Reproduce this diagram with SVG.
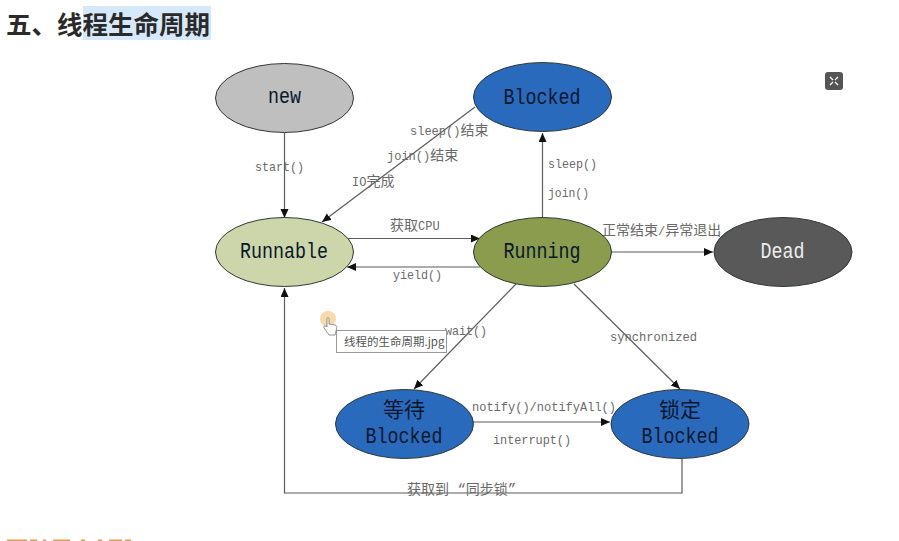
<svg xmlns="http://www.w3.org/2000/svg" width="899" height="541" viewBox="0 0 899 541">
<style>
text{font-family:"Liberation Mono","Noto Sans CJK SC",monospace}
.n{stroke:#2f3a33;stroke-width:1}
.t{font-size:22px;text-anchor:middle;fill:#08182c}
.k{font-size:21px;text-anchor:middle;fill:#08182c}
.l{font-size:13.500px;fill:#6a6a6a}
.m{font-size:12px;fill:#6a6a6a}
.m tspan{font-size:14px}
.c{fill:none;stroke:#5c5c5c;stroke-width:1.200;marker-end:url(#a)}
.h{font-family:"Noto Sans CJK SC","Noto Sans",sans-serif;font-size:25.500px;font-weight:700;fill:#2a2a2a}
</style>
<defs><marker id="a" markerUnits="userSpaceOnUse" markerWidth="10" markerHeight="10" refX="9" refY="4" orient="auto"><path d="M0 0L9 4L0 8Z" fill="#111"/></marker></defs>
<rect width="899" height="541" fill="#fff"/>
<g id="heading">
<rect x="83" y="6" width="128" height="34" fill="#d6e9fa"/>
<text class="h" x="6" y="34">五、线程生命周期</text>
</g>
<g id="connectors">
<path class="c" d="M284.500 132.500V218"/>
<path class="c" d="M475 107L322 222"/>
<path class="c" d="M542.500 218V133"/>
<path class="c" d="M347 238.500H480"/>
<path class="c" d="M480 267H347"/>
<path class="c" d="M611 252H713"/>
<path class="c" d="M516 284L414 389"/>
<path class="c" d="M574 284L680 389"/>
<path class="c" d="M473 422H610"/>
<path class="c" d="M682 459V493H284.500V288"/>
</g>
<g id="labels">
<text class="l" x="255" y="171" textLength="49" lengthAdjust="spacingAndGlyphs">start()</text>
<text class="m" x="410" y="135">sleep()<tspan>结束</tspan></text>
<text class="m" x="387" y="160">join()<tspan>结束</tspan></text>
<text class="m" x="352" y="186">IO<tspan>完成</tspan></text>
<text class="m" x="390" y="230"><tspan>获取</tspan>CPU</text>
<text class="l" x="393" y="279" textLength="49" lengthAdjust="spacingAndGlyphs">yield()</text>
<text class="l" x="548" y="168" textLength="49" lengthAdjust="spacingAndGlyphs">sleep()</text>
<text class="l" x="548" y="197" textLength="41" lengthAdjust="spacingAndGlyphs">join()</text>
<text class="m" x="602" y="235"><tspan>正常结束</tspan>/<tspan>异常退出</tspan></text>
<text class="l" x="445" y="335" textLength="42" lengthAdjust="spacingAndGlyphs">wait()</text>
<text class="l" x="610" y="341" textLength="87" lengthAdjust="spacingAndGlyphs">synchronized</text>
<text class="l" x="472" y="411" textLength="144" lengthAdjust="spacingAndGlyphs">notify()/notifyAll()</text>
<text class="l" x="493" y="444" textLength="78" lengthAdjust="spacingAndGlyphs">interrupt()</text>
<text class="m" x="407" y="494"><tspan>获取到 “同步锁”</tspan></text>
</g>
<g id="new"><ellipse class="n" cx="284.500" cy="98" rx="69" ry="34.500" fill="#bfbfbf"/><text class="t" x="284.500" y="103" textLength="33" lengthAdjust="spacingAndGlyphs">new</text></g>
<g id="blocked"><ellipse class="n" cx="542.500" cy="97" rx="69" ry="34.500" fill="#2a6abd"/><text class="t" x="542" y="104" textLength="77" lengthAdjust="spacingAndGlyphs">Blocked</text></g>
<g id="runnable"><ellipse class="n" cx="284.500" cy="252" rx="69" ry="34.500" fill="#cdd6aa"/><text class="t" x="284" y="258" textLength="88" lengthAdjust="spacingAndGlyphs">Runnable</text></g>
<g id="running"><ellipse class="n" cx="542.500" cy="252" rx="69" ry="34.500" fill="#8b9c4e"/><text class="t" x="542" y="258" textLength="77" lengthAdjust="spacingAndGlyphs">Running</text></g>
<g id="dead"><ellipse class="n" cx="783" cy="252" rx="69" ry="34.500" fill="#595959"/><text class="t" x="782.500" y="258" textLength="44" lengthAdjust="spacingAndGlyphs" style="fill:#eee">Dead</text></g>
<g id="waiting"><ellipse class="n" cx="404.500" cy="424" rx="69" ry="34.500" fill="#2a6abd"/><text class="k" x="404" y="417">等待</text><text class="t" x="404" y="443" textLength="77" lengthAdjust="spacingAndGlyphs">Blocked</text></g>
<g id="locked"><ellipse class="n" cx="680" cy="424" rx="69" ry="34.500" fill="#2a6abd"/><text class="k" x="680" y="417">锁定</text><text class="t" x="680" y="443" textLength="77" lengthAdjust="spacingAndGlyphs">Blocked</text></g>
<g id="tooltip">
<rect x="336.500" y="330.500" width="110" height="22" fill="#fff" stroke="#999"/>
<text x="344" y="346" font-size="11.500" fill="#555" style="font-family:'Noto Sans CJK SC','Liberation Sans',sans-serif">线程的生命周期.jpg</text>
<circle cx="328" cy="319" r="8" fill="#f8d9a8"/>
<path d="M327 319c0-2 2-2 2 0v5l6 1c2 .5 2 2 1.500 4l-1.500 6h-6l-5-7c-1-2 1-3 3-1z" fill="#fff" stroke="#777" stroke-width=".8"/>
</g>
<g id="expand">
<rect x="825" y="72" width="18" height="18" rx="3" fill="#555"/>
<path d="M830 77L833 80M838 77L835 80M830 85L833 82M838 85L835 82" fill="none" stroke="#fff" stroke-width="1.300"/>
</g>
<path id="clipped-heading" d="M7 539.500H27V541H7ZM30 539.500H37V541H30ZM43 539.500H46V541H43ZM53 539.500H70V541H53ZM81 539.500H85V541H81ZM98 539.500H102V541H98ZM109 539.500H122V541H109ZM125 539.500H131V541H125Z" fill="#e39a55"/>
</svg>
